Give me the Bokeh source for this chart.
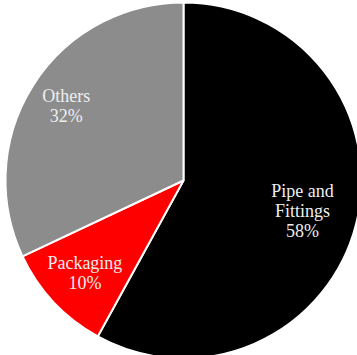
import math
from bokeh.plotting import figure
from bokeh.models import ColumnDataSource
from bokeh.core.properties import value
from bokeh.embed import file_html
from bokeh.resources import INLINE

# Data
categories = ["Pipe and\nFittings", "Packaging", "Others"]
shares = [58, 10, 32]
colors = ["#000000", "#ff0000", "#8c8c8c"]
label_fracs = [0.69, 0.76, 0.78]

W, H = 357, 355
cx, cy, R = 183, 175, 178
LINE_H = 20

total = sum(shares)
starts, ends = [], []
tx, ty, tt, toff = [], [], [], []
cum = 0.0
for cat, s, f in zip(categories, shares, label_fracs):
    a0 = math.pi / 2 - 2 * math.pi * cum / total
    cum += s
    a1 = math.pi / 2 - 2 * math.pi * cum / total
    starts.append(a0)
    ends.append(a1)
    mid = (a0 + a1) / 2
    x = cx + f * R * math.cos(mid)
    y = cy + f * R * math.sin(mid)
    lines = cat.split("\n") + [f"{s}%"]
    n = len(lines)
    for i, ln in enumerate(lines):
        tx.append(x)
        ty.append(y)
        tt.append(ln)
        toff.append((i - (n - 1) / 2) * LINE_H)

src = ColumnDataSource(dict(start=starts, end=ends, color=colors))
lsrc = ColumnDataSource(dict(x=tx, y=ty, text=tt, yoff=toff))

p = figure(width=W, height=H, x_range=(0, W), y_range=(0, H),
           output_backend="svg", toolbar_location=None, min_border=0)
p.axis.visible = False
p.grid.visible = False
p.outline_line_color = None
p.background_fill_color = "white"

p.wedge(x=cx, y=cy, radius=R, start_angle="start", end_angle="end",
        direction="clock", fill_color="color", line_color="white",
        line_width=2, source=src)
p.text(x="x", y="y", text="text", y_offset="yoff", source=lsrc,
       text_align="center", text_baseline="middle",
       text_font=value("Liberation Serif"),
       text_font_size="18px", text_color="#eeeeee")

open("out.html", "w").write(file_html(p, INLINE))
